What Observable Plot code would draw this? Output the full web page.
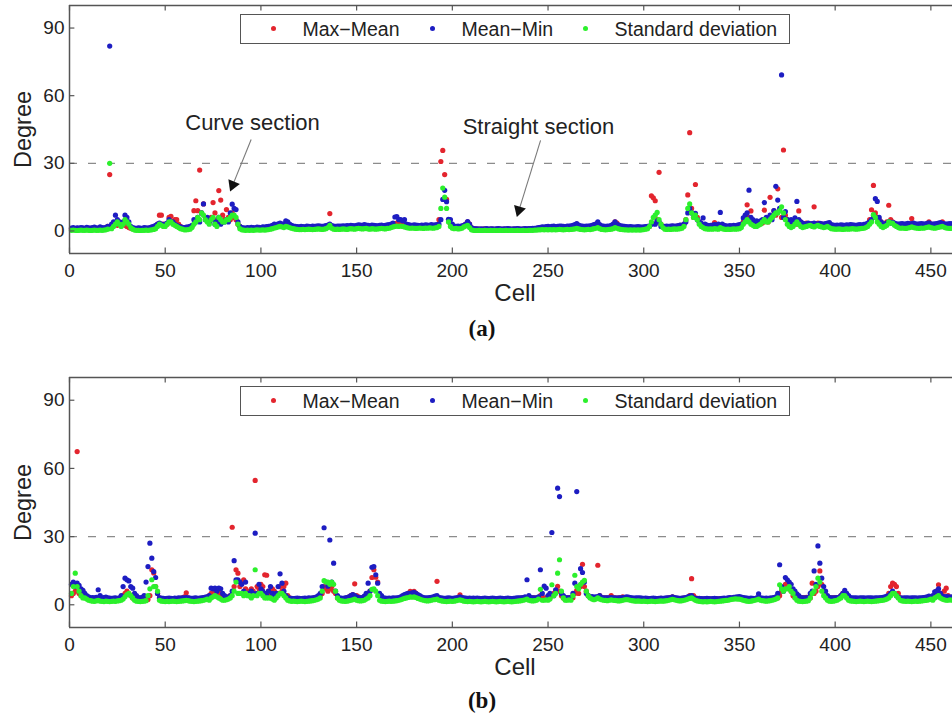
<!DOCTYPE html>
<html><head><meta charset="utf-8">
<script src="https://cdn.jsdelivr.net/npm/d3@7"></script>
<script src="https://cdn.jsdelivr.net/npm/@observablehq/plot@0.6"></script>
<style>
body{margin:0;background:#fff;}
#fig{position:relative;width:952px;height:723px;overflow:hidden;font-family:"Liberation Sans",Arial,Helvetica,sans-serif;background:#fff;}
#fig svg{position:absolute;left:0;}
.legend{position:absolute;left:240px;width:550px;height:30px;box-sizing:border-box;border:1.5px solid #555;background:#fff;}
.legend .dot{position:absolute;top:11px;width:5px;height:5px;border-radius:50%;}
.legend .lab{position:absolute;top:2.5px;font-size:19.5px;line-height:22px;color:#222;white-space:nowrap;}
.cap{position:absolute;left:482px;transform:translateX(-50%);font-family:"Liberation Serif","Times New Roman",serif;font-weight:bold;font-size:23px;line-height:26px;color:#111;}
</style>
</head><body>
<div id="fig"></div>
<script>
// ---- tick labels ----
const xTicks = [0, 50, 100, 150, 200, 250, 300, 350, 400, 450];
const yTicks = [0, 30, 60, 90];
const seriesNames = ["Max\u2212Mean", "Mean\u2212Min", "Standard deviation"];
const seriesColors = ["#e3252e", "#1d1dc2", "#2cf02c"];
const threshold = [30];

// ---- panel (a): values for cells 1..461 (20 per row) ----
const aMax = [
1.0,1.2,0.9,1.1,1.0,0.8,1.2,1.0,1.1,0.9,1.0,1.2,1.1,0.9,1.0,1.3,1.1,1.0,1.2,2.0,
25,2.5,3,3,2.5,4,3,3,2.5,2,1.5,1.2,1.0,0.9,1.0,1.1,0.9,1.0,1.2,1.0,
1.1,1.0,1.3,1.5,2,3,7,7,3,2.5,3,6,6.5,4,5,5,3,2,1.5,1.2,
1.5,1.5,1.8,2,9,13.4,9,27,8,12,6,5,4,6,12.6,8,5,17.9,13.7,7,
5,9.5,6,5,8,6,5,3,2,1.2,1.0,0.9,1.1,1.0,1.2,0.9,1.0,1.1,1.3,1.0,
1.2,1.1,1.0,1.3,1.5,2,2.5,2.2,2.8,3,2.5,2.2,3,2.8,2.5,2,1.8,1.5,1.3,1.2,
1.5,1.4,1.2,1.6,1.5,1.3,1.4,1.6,1.5,1.8,1.6,1.5,1.4,1.7,2.5,7.7,2,1.5,1.4,1.6,
1.5,1.7,1.8,1.6,1.5,1.9,2,1.8,1.7,2,2.2,2,1.9,2.1,2,1.8,1.7,1.9,2,1.8,
1.7,1.9,2,1.8,2.1,2,2.2,2.5,2.8,3,3.5,4,3.5,3.2,3,2.5,2.2,2,2.1,2,
1.9,2,2.2,2.1,2,1.9,2.2,2.3,2.1,2,2.2,2.5,5,30.8,35.7,25,14,5,3,1.8,
1.5,1.6,1.4,1.5,1.8,2.5,3,4,3,1.5,1.0,0.9,0.8,0.8,0.7,0.8,0.9,0.8,0.7,0.8,
0.8,0.7,0.8,0.9,0.8,0.7,0.8,0.8,0.9,0.8,0.7,0.8,0.8,0.9,0.8,0.7,0.8,0.9,0.8,0.8,
0.9,0.8,1.0,1.1,1.2,1.3,1.5,1.4,1.6,1.5,1.3,1.5,1.6,1.4,1.5,1.7,1.6,1.5,1.4,1.6,
1.7,1.8,2,2.2,3,2.2,1.8,1.6,1.5,1.7,1.6,1.8,2,2.5,3,3.5,2.5,1.8,1.6,1.5,
1.6,1.7,2,2.5,4,3.5,2.5,2,1.6,1.5,1.4,1.3,1.5,1.4,1.3,1.4,1.5,1.4,1.3,1.5,
1.5,1.6,2,15.6,14.7,13.4,5,26,3,2,1.8,1.7,1.6,1.8,2,1.9,2,2.2,2.5,2.3,
3,5,16,43.6,10,6,20.6,6,4,3,2,2.2,2,1.8,2,2.2,3.7,2.5,2,1.8,
2,2.2,2,1.8,1.9,2,2.1,1.8,2,2.2,2.5,4,6,11.6,6,8.9,4,3,3.2,3,
3.2,3.5,9.2,5,4,14.9,6,8.9,7,18.7,9,6,35.9,7,5,4,3.2,3,3.5,3,
8.9,4,3.2,3,3.5,3,3.2,3,10.7,3,3.5,3.2,3,2.8,3,3.2,3,2.5,2.2,2,
2.1,2,2.2,2,1.9,2.1,2,2.2,2.1,2,1.9,2.1,2,2.2,2.3,2.5,3,5,9.4,20.2,
8,6,5,4,3,3,4,11.4,5,4,3,2.8,2.5,2.6,2.5,2.4,2.6,2.8,3,5.5,
3,2.6,2.5,2.4,2.6,2.5,2.7,3,4,2.8,2.6,2.5,2.7,3,3.2,4,3,2.6,2.5,2.6,
2.5];
const aMin = [
1.3,1.5,1.2,1.4,1.3,1.5,1.4,1.2,1.6,1.4,1.3,1.5,1.7,1.4,1.3,1.8,1.5,1.4,1.6,2,
82,3,4,7,5,4,3,4,7,6,4,2,1.5,1.3,1.2,1.4,1.3,1.2,1.5,1.4,
1.3,1.5,1.8,2,2.5,3,3.5,3,2.5,3,3.5,5,4,4,3,2.5,2,1.8,1.6,1.5,
1.7,1.8,2,2.5,5,4,6,4,8,12,5,6,4,5,5,3,4,6,3,4,
4,5,4,8,11.9,10,9.5,4,2,1.5,1.4,1.3,1.5,1.4,1.6,1.5,1.4,1.7,1.6,1.5,
1.8,1.7,1.9,2,2.2,2.5,3,2.8,3.2,3.5,3,3.2,4.5,4,3,2.5,2.2,2,1.9,1.8,
2,1.9,1.8,2.1,2,1.9,2.2,2,2.1,2.3,2.2,2,2.1,2.4,2.6,3,2.4,2.2,2,2.1,
2.2,2.1,2.3,2.2,2.4,2.3,2.5,2.4,2.3,2.5,2.7,2.6,2.5,2.8,2.6,2.5,2.4,2.6,2.5,2.4,
2.3,2.5,2.6,2.4,2.5,2.7,2.8,3,3.5,6.2,6.4,5,5,4.5,5,3,2.8,2.6,2.5,2.7,
2.6,2.5,2.4,2.6,2.5,2.7,2.6,2.5,2.8,2.6,2.7,2.8,3,5,14,18,13,5.2,5,3,
2.2,2,2.1,2,2.3,2.5,3,4.2,3,1.5,1.0,0.9,0.9,0.8,0.9,0.8,0.9,1.0,0.8,0.9,
0.9,0.8,0.9,1.0,0.9,0.8,0.9,0.9,1.0,0.9,0.8,0.9,0.9,1.0,0.9,0.8,0.9,1.0,0.9,1.0,
1.0,1.1,1.2,1.3,1.5,1.6,1.8,1.7,1.9,2,1.8,2,2.1,1.9,2,2.2,2.1,2,1.9,2.1,
2.2,2.3,2.5,2.8,3.3,2.6,2.3,2.1,2,2.2,2.1,2.3,2.5,2.8,3,4,2.8,2.3,2.1,2,
2.1,2.2,2.5,3,4,3,2.6,2.3,2.1,2,1.9,1.8,1.9,1.8,1.7,1.8,1.9,1.8,1.7,1.8,
1.9,2,2.2,3,3.2,3,4.5,4,2,1.9,2,2.1,2,2.2,2.3,2.1,2.2,2.4,2.6,2.5,
3,4,8,10,8,7.8,7.8,5,4,3.5,5.8,3,2.6,2.4,2.5,2.6,2.8,2.6,3,8.2,
3,2.5,2.3,2.2,2.4,2.3,2.5,2.4,2.6,2.8,3,5.8,7,8,18.1,6,5,4,4.5,4,
4.5,5,12.6,6,5,7,5,9,19.8,13.7,10,69.2,6,8.6,5,4,5,4,5.8,13.1,
5,4,3.5,3,3.2,3.5,3,3.3,3.5,3.2,3,3.4,3.2,3,3.3,3.5,3.7,2.8,2.6,2.5,
2.6,2.5,2.7,2.6,2.5,2.7,2.6,2.8,2.7,2.6,2.5,2.7,2.8,2.6,2.9,3,3.5,4,5,7,
14.3,13.1,6,4,3,3.2,3.5,4,3.5,3.8,3.5,3.2,3,3.1,3.3,3,3.2,3.4,3.1,3.3,
3.5,3.2,3,3.1,3.3,3.2,3,3.4,3.6,3.2,3,3.1,3.3,3.5,3.7,3.4,3.2,3,3.1,3.3,
3.2];
const aStd = [
0.3,0.4,0.3,0.2,0.3,0.4,0.3,0.3,0.4,0.3,0.2,0.3,0.4,0.3,0.3,0.4,0.3,0.4,0.5,0.8,
30,1,2,3,4,3,2,3,5,4,3,1.5,0.8,0.4,0.3,0.3,0.2,0.3,0.3,0.4,
0.3,0.4,0.5,0.7,1,2,3,2.5,2,2,3,4,4,3,2.5,2,1.5,1,0.8,0.5,
0.5,0.6,0.8,1.5,3,4,6,5,8,7,5,4,3,5,6,3,2,6,5,4,
4,5,5,6,7,7,6,3,1,0.5,0.4,0.3,0.4,0.3,0.4,0.3,0.4,0.5,0.4,0.4,
0.5,0.4,0.5,0.6,0.8,1,1.3,1.5,1.8,2,1.8,1.5,2,1.8,1.5,1.2,1,0.8,0.7,0.6,
0.6,0.7,0.6,0.7,0.8,0.7,0.6,0.7,0.8,0.9,0.8,0.7,0.8,1,1.5,2.5,1.2,0.8,0.7,0.8,
0.7,0.8,0.9,0.8,0.7,0.9,1,0.9,0.8,1,1.1,1,0.9,1,1.1,0.9,0.8,1,0.9,0.8,
0.9,1,1.1,1,0.9,1.1,1.2,1.5,1.8,2,2.2,2,2.2,2,1.8,1.5,1.3,1.2,1.3,1.2,
1.1,1.2,1.3,1.2,1.1,1.3,1.2,1.4,1.3,1.2,1.4,1.5,2,10,19,15,10,4,2,1.2,
1,1.1,0.9,1,1.2,1.8,2.2,2.5,1.5,0.5,0.3,0.2,0.2,0.3,0.2,0.2,0.3,0.2,0.2,0.3,
0.2,0.3,0.2,0.2,0.3,0.2,0.2,0.3,0.2,0.2,0.3,0.2,0.2,0.3,0.2,0.2,0.3,0.2,0.2,0.3,
0.3,0.3,0.4,0.4,0.5,0.5,0.6,0.5,0.6,0.5,0.6,0.5,0.6,0.5,0.6,0.7,0.6,0.5,0.6,0.7,
0.6,0.7,0.8,0.9,1.2,0.9,0.7,0.6,0.5,0.6,0.7,0.6,0.8,1,1.2,1.5,1,0.7,0.6,0.5,
0.6,0.7,0.8,1,1.5,1.2,0.9,0.7,0.6,0.5,0.5,0.4,0.5,0.4,0.5,0.4,0.5,0.4,0.5,0.6,
0.8,1,2,4,6,7,8.2,5,3,1.5,0.8,0.7,0.8,0.7,0.8,0.9,0.8,0.9,1,1.2,
2,5,10,12,8,6,7,5,3,2,1.5,1,0.9,0.8,0.9,0.8,1,0.9,0.8,1.5,
1,0.8,0.7,0.8,0.7,0.8,0.9,0.8,0.9,1,1.5,3,4,5,4,3,2.5,2,2,2.5,
3,4,5,4,4,5,6,7,8,8,9,10.7,8,5,3,2,1.5,2,3,4,
3,2,1.5,1.8,2,2.3,2.5,2,1.8,2.2,2.5,2,1.8,1.5,1.7,2,1.5,1,0.9,0.8,
0.8,0.9,0.8,0.7,0.8,0.9,0.8,0.9,1,0.9,0.8,0.9,1,1.1,1.2,1.5,2,3,4,7.2,
6,4,3,2,1.5,2,2.5,4,3.5,3.5,2.5,2,1.5,1.2,1.3,1.2,1.1,1.3,1.5,1.8,
1.5,1.3,1.2,1.1,1.3,1.2,1.4,1.6,1.8,1.5,1.3,1.2,1.4,1.6,1.8,2,1.6,1.3,1.2,1.1,
1.2];

// ---- panel (b): values for cells 1..461 (20 per row) ----
const bMax = [
4,5,6,67.4,5,4,6,4,3,3,2.6,2.5,2.7,2.8,3,2.6,2.5,2.4,2.6,2.5,
2.4,2.6,2.5,2.7,2.6,2.8,3,4,5,6,5,4,3,2.7,2.6,2.5,2.6,2.8,2.9,3,
2.3,4,15.4,14,8,5,3,2.6,2.5,2.4,2.6,2.5,2.4,2.6,2.5,2.7,2.6,2.8,3,3.5,
5.3,3,2.7,2.6,2.5,2.4,2.6,2.7,2.8,3,3.2,3.5,4,5,7,6,5,6,5,3,
3,3.2,3.5,4,34.1,8,15.4,13.9,8,10,11,7,6,5,7,6,54.7,8,7,9,
8,13.2,13,6,5,7,6,5,5,8,6,8,9.5,4,3,2.7,2.6,2.5,2.6,2.4,
2.5,2.6,2.4,2.5,2.7,2.6,2.8,3,3.2,3.5,4,5,8,7,6,7,8,6,5,3,
2.7,2.6,2.5,2.8,3,3.5,4,4.5,9.2,4,3.5,3,3.2,3.5,4,5,6,12,15.4,12.1,
10,4,3,2.8,2.6,2.5,2.7,2.6,2.5,2.8,2.7,2.6,2.8,3,3.5,4,5,5.9,5.5,5.9,
5,4,3.5,3,2.8,2.7,2.6,2.8,3,3.2,3.5,10.3,3,2.8,2.7,2.6,2.5,2.7,2.6,2.5,
2.7,2.8,3,4.4,3,2.7,2.6,2.5,2.6,2.4,2.5,2.6,2.4,2.5,2.6,2.5,2.4,2.5,2.6,2.4,
2.5,2.6,2.4,2.5,2.6,2.5,2.4,2.5,2.6,2.4,2.5,2.6,2.5,2.7,2.8,2.9,3,3.2,3,3,
3,3.1,3,2.9,3,4,3,3.1,3,3.2,3,4.4,5,6,8.1,6,4,3,3.1,3,
3.2,3,3.1,5,6.3,5,8,17.8,8,6,4,3.2,3,3.1,3,17.4,4,3.2,3,3.1,
3,3.2,4,3.1,3,2.9,3,3.1,3.5,3,2.8,2.7,2.6,2.5,2.6,2.7,2.6,2.5,2.6,2.7,
2.6,2.5,2.6,2.7,2.6,2.5,2.6,2.7,2.8,2.7,2.6,2.8,3,3.2,3.5,3,2.8,2.7,2.6,2.8,
2.9,3,3.2,4,11.5,4,3,2.8,2.6,2.5,2.6,2.4,2.5,2.6,2.5,2.4,2.5,2.6,2.5,2.7,
2.6,2.5,2.7,2.8,2.9,2.8,3,3.1,3,3.2,3,2.9,2.7,2.6,2.5,2.7,2.6,2.5,2.8,3,
2.8,2.6,2.5,2.7,2.6,2.8,2.7,2.9,3,3,4,6,7,9,8,7,6,4,3.2,3,
3.1,3,3.2,3,3.3,3.1,3,9.5,5,6,8,14.9,9,6,4,3.2,3,3.1,3,3.2,
3,3.3,4,5,5,4,3,2.8,2.7,2.6,2.5,2.7,2.6,2.5,2.6,2.7,2.6,2.5,2.7,2.6,
2.5,2.6,2.8,2.7,2.9,3,3.5,5,8,9.5,9,8,5,3,2.8,2.6,2.5,2.6,2.7,2.5,
2.6,2.5,2.7,2.6,2.5,2.7,2.8,2.6,2.7,2.9,3,4,6,8.8,5,4,6,7.3,4,3,
3];
const bMin = [
9,10,8,9.5,8.5,7,6.3,5,4,3.5,3,3.2,3,3.3,6.6,4,3,3.2,3.4,3,
2.9,2.8,2.9,3,2.8,3,4,8,11.7,11,10.5,8,7.3,5,4,3.2,3,3.3,4,10,
16.8,27.1,20.5,14.6,12,5,3,2.9,2.8,2.7,2.8,2.9,2.8,2.7,2.9,2.8,3,2.9,3.1,3,
3.2,3,2.9,2.8,2.9,3,2.8,2.9,3,3.2,3.4,3.5,4,7.3,7,7.3,6,7.3,7,5,
4,3.5,3.3,4,6,19.4,11,11,10,9,6,10,5,4,6,5,31.5,5,9,7,
6,5,4,6,8,5,4,5,8,13.6,9.5,6,4,3,2.9,2.8,2.7,2.8,2.9,2.8,
2.7,2.8,2.9,2.8,3,2.9,3,3.2,3.5,4,5,8,33.9,10,8.2,28.5,10,18.3,6,4,
3,2.9,2.8,3,3.2,3.5,4,4.5,4,3.5,3.2,3,3.2,3.8,5,9.5,6,16.5,16.8,13.2,
9.5,5,4,3,2.9,2.8,2.9,2.8,3,2.9,3,3.2,3.5,4,4.5,4.8,5,5,5.2,5.5,
5,4.5,4,3.5,3.2,3,3.1,3.2,3.3,3.5,3.8,4,3.2,3,2.9,2.8,2.9,3,2.9,2.8,
2.9,3,3.2,3.5,3.2,3,2.9,2.8,2.9,2.8,2.9,2.8,2.9,2.8,2.7,2.8,2.9,2.8,2.7,2.8,
2.9,2.8,2.7,2.8,2.9,2.8,2.7,2.8,2.9,2.8,2.7,2.8,2.9,3,3.1,3,3.2,3.5,11,4,
3.2,3,3.1,3,3.5,15.4,5,8.2,7.3,4,5,31.8,4,6.6,51.3,47.6,5,4,3.2,3,
3.1,3.2,5,9.5,49.8,8,15.9,14.2,10,5,4,3.5,3.6,3.4,3.5,3.6,4,3.2,3.1,3,
3.1,3,3.2,3.1,3,2.9,3,3.1,3.2,3.3,3.5,3.4,3.2,3,2.9,3,3.1,3,2.9,2.8,
2.9,2.8,2.7,2.8,2.9,2.8,2.7,2.8,2.9,2.8,2.9,3,3.1,3.2,3.5,3.2,3,2.9,2.8,2.9,
3,3.2,3.5,3.8,4,3,2.8,2.7,2.8,2.7,2.6,2.7,2.8,2.7,2.6,2.7,2.8,2.7,2.6,2.7,
2.8,2.9,2.8,3,3.2,3.1,3.3,3.4,3.5,3.6,3.4,3.2,3,2.9,2.8,2.9,2.8,2.7,3,4.8,
3,2.9,2.8,2.9,2.8,2.9,3,3.2,3.5,5,17.6,8,6,12,11,10,9,7,6,4.8,
4,3.2,3,3.1,3,3.2,5,6,14.9,9,25.9,18.3,11.7,8,6,4,3.2,3,3.1,3,
3.2,3.3,4,5,6.3,5,4,3.2,3,3.1,3,2.9,3,3.1,3,2.9,3,3.1,3,2.9,
3,3.1,3,3.2,3.3,3.5,3.8,4,5,6,5,4,3.2,3,2.9,3,3.1,3,2.9,3,
3.1,3,2.9,3,3.1,3.2,3.3,3.5,3.8,3.5,4,5.7,6,7,5,3.8,3.5,3.6,3.5,3.4,
3.5];
const bStd = [
5,8,13.9,8,6,4,3,3,2.5,2,1.8,1.6,1.5,1.7,2,1.6,1.5,1.4,1.6,1.5,
1.4,1.5,1.6,1.5,1.7,1.8,2,2.5,3.5,4.5,5,4,3,2,1.6,1.5,1.4,1.5,1.6,1.8,
4,7,11,8,8,6,2,1.6,1.5,1.4,1.5,1.4,1.5,1.6,1.5,1.4,1.5,1.6,1.7,1.8,
2,1.8,1.6,1.5,1.4,1.5,1.6,1.7,1.8,2,2.2,2.5,2,3,3.5,4,3.5,3,2.5,2,
2,2.2,2.5,3,4,6,10,5,5,5,4,5,4,4,3,4,15.4,4,5,5,
4,3,3,3,3,2.5,2,3,4,5,5,4,3,2,1.7,1.5,1.6,1.5,1.4,1.5,
1.6,1.5,1.4,1.5,1.6,1.7,1.8,2,2.2,2.5,3,6,10.6,10,10,9,10,9,6,3,
2,1.7,1.6,1.5,1.6,1.8,2,2.2,2.5,2,1.8,1.7,1.8,2,2.5,3,4,6.8,7,6,
4,2,1.6,1.5,1.4,1.5,1.6,1.5,1.6,1.7,1.8,2,2.2,2.5,2.8,3,3.2,3.5,3.3,3.5,
3.2,2.8,2.5,2.2,2,1.8,1.7,1.8,2,2.2,2.3,2.5,2,1.8,1.6,1.5,1.4,1.5,1.6,1.5,
1.6,1.8,2,2.2,1.9,1.6,1.5,1.4,1.5,1.4,1.3,1.4,1.5,1.4,1.3,1.4,1.5,1.4,1.3,1.4,
1.5,1.4,1.3,1.4,1.5,1.4,1.3,1.4,1.5,1.4,1.3,1.4,1.5,1.6,1.7,1.8,2,2.2,2.5,2,
1.8,1.7,1.8,2,2.5,6.8,2,2,2.2,2,2.5,8.8,4,5,13.9,19.8,6,3,2,2,
2.2,2,4,13,8,7,9,10,10.7,6,4,3,2.5,2.2,2.5,3,2.5,2.2,2,1.9,
1.8,2,2.2,2,1.9,1.8,1.7,1.8,2,2.2,2.3,2.2,2,1.8,1.7,1.6,1.7,1.6,1.5,1.6,
1.5,1.4,1.5,1.6,1.5,1.4,1.5,1.6,1.7,1.6,1.7,1.8,2,2.2,2.4,2.2,2,1.8,1.7,1.8,
2,2.2,2.5,2.8,3,2.5,2,1.7,1.5,1.4,1.3,1.4,1.3,1.4,1.5,1.4,1.3,1.4,1.5,1.6,
1.7,1.8,1.9,2,2.2,2.4,2.5,2.6,2.5,2.5,2.3,2,1.8,1.6,1.5,1.6,1.8,2,2.2,2.5,
2,1.8,1.7,1.6,1.7,1.8,2,2.2,2.5,3,8.8,7,6,7,7,8,6,5,3,2,
1.6,1.5,1.4,1.5,1.6,1.8,3,5,6,8,11.7,10,6,4,3,2,1.6,1.5,1.6,1.8,
2,2.5,3,4,4,3,2,1.7,1.6,1.5,1.4,1.5,1.6,1.5,1.4,1.5,1.6,1.5,1.4,1.5,
1.6,1.7,1.8,1.9,2,2.2,2.5,3,4,5,5,4,3,2,1.7,1.6,1.5,1.6,1.5,1.4,
1.5,1.6,1.5,1.6,1.7,1.8,1.9,2,2.2,2.5,2,3,3.5,4,3,2.5,2.2,2,2,2.2,
2];

// ---- annotations (panel a), in data units ----
const noteLabels = ["Curve section", "Straight section"];
const noteCell = [95.6, 245];
const noteValue = [48, 46.2];
const arrowFrom = [[94.9, 40.6], [246.1, 40.2]];
const arrowTo = [[84.1, 17.9], [233.9, 6.7]];
const headAt = [[85.3, 20.4], [234.8, 9.2]];
const headRotate = [202, 197];

const FONT = '"Liberation Sans", Arial, Helvetica, sans-serif';
const fig = document.getElementById("fig");

function rows(arr) { return arr.map((v, i) => ({cell: i + 1, value: v})); }

function panel(series, plotHeight, withNotes) {
  const frameStyle = {stroke: "#555", strokeWidth: 1.5};
  const marks = [
    Plot.ruleY(threshold, {stroke: "#8c8c8c", strokeWidth: 1.3, strokeDasharray: "8,11"}),
    ...series.map((s, k) => Plot.dot(rows(s), {x: "cell", y: "value", r: 2.6, fill: seriesColors[k], stroke: null})),
    // inward ticks
    Plot.ruleX(xTicks, {y1: -10, y2: -7.6, stroke: "#555", strokeWidth: 1.2}),
    Plot.ruleX(xTicks, {y1: 97.6, y2: 100, stroke: "#555", strokeWidth: 1.2}),
    Plot.ruleY(yTicks, {x1: 0, x2: 2.8, stroke: "#555", strokeWidth: 1.2}),
    // frame (top, bottom, left)
    Plot.ruleY([-10, 100], frameStyle),
    Plot.ruleX([0], frameStyle),
    Plot.text(["Degree"], {text: d => d, frameAnchor: "left", textAnchor: "middle", lineAnchor: "middle", dx: -46.5, rotate: -90, fontSize: 23.5, fill: "#222"}),
    Plot.text(["Cell"], {text: d => d, frameAnchor: "bottom", textAnchor: "middle", lineAnchor: "middle", dy: 40, dx: 4, fontSize: 24, fill: "#222"})
  ];
  if (withNotes) {
    const notes = noteLabels.map((t, i) => ({t, x: noteCell[i], y: noteValue[i]}));
    const arrows = arrowFrom.map((f, i) => ({x1: f[0], y1: f[1], x2: arrowTo[i][0], y2: arrowTo[i][1], hx: headAt[i][0], hy: headAt[i][1], rot: headRotate[i]}));
    marks.push(
      Plot.text(notes, {x: "x", y: "y", text: "t", fontSize: 22, fill: "#222"}),
      Plot.link(arrows, {x1: "x1", y1: "y1", x2: "x2", y2: "y2", stroke: "#7a7a7a", strokeWidth: 1.1}),
      Plot.dot(arrows, {x: "hx", y: "hy", symbol: "triangle", r: 4.6, rotate: "rot", fill: "#111", stroke: null})
    );
  }
  return Plot.plot({
    width: 952,
    height: 5 + plotHeight + 50,
    marginTop: 5, marginBottom: 50, marginLeft: 69, marginRight: 0,
    x: {domain: [0, 461.3], ticks: xTicks, tickSize: 0, tickPadding: 10, label: null},
    y: {domain: [-10, 100], ticks: yTicks, tickSize: 0, tickPadding: 5, label: null},
    style: {fontFamily: FONT, fontSize: "19px", color: "#222", background: "transparent", overflow: "visible"},
    marks
  });
}

function legend(top) {
  const box = document.createElement("div");
  box.className = "legend";
  box.style.top = top + "px";
  const dotLeft = [30, 188.7, 342];
  const labLeft = [61.5, 220.5, 373.5];
  seriesNames.forEach((n, i) => {
    const d = document.createElement("div");
    d.className = "dot"; d.style.left = dotLeft[i] + "px"; d.style.background = seriesColors[i];
    const l = document.createElement("div");
    l.className = "lab"; l.style.left = labLeft[i] + "px"; l.textContent = n;
    box.appendChild(d); box.appendChild(l);
  });
  return box;
}

function caption(text, top) {
  const c = document.createElement("div");
  c.className = "cap"; c.style.top = top + "px"; c.textContent = text;
  return c;
}

const svgA = panel([aMax, aMin, aStd], 248, true);
svgA.style.top = "0px";
fig.appendChild(svgA);
fig.appendChild(legend(14));
fig.appendChild(caption("(a)", 316));

const svgB = panel([bMax, bMin, bStd], 250, false);
svgB.style.top = "372px";
fig.appendChild(svgB);
fig.appendChild(legend(386));
fig.appendChild(caption("(b)", 688));
</script>
</body></html>
